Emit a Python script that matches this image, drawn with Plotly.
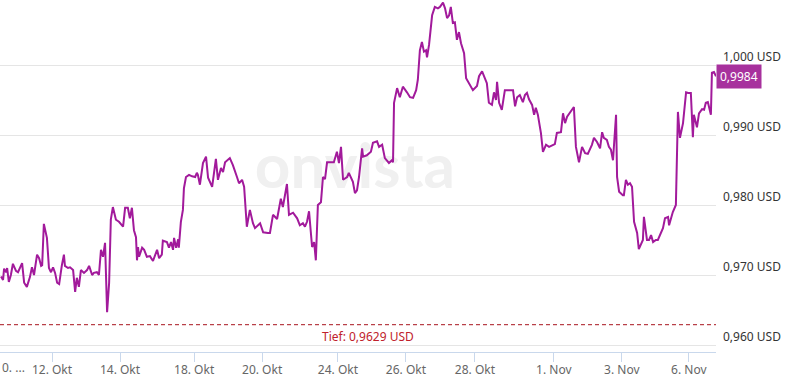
import plotly.graph_objects as go

# time in trading days from the left edge of the window, price in USD
t = [0.03,0.09,0.12,0.18,0.21,0.26,0.32,0.38,0.47,0.53,0.65,0.71,0.79,0.88,0.94,1.00,1.09,1.15,1.21,1.24,
     1.29,1.38,1.44,1.50,1.56,1.62,1.68,1.74,1.82,1.88,1.91,2.00,2.06,2.15,2.21,2.26,2.32,2.38,2.47,2.56,
     2.62,2.71,2.76,2.85,2.91,2.97,3.03,3.09,3.15,3.21,3.26,3.32,3.41,3.50,3.62,3.68,3.76,3.82,3.88,3.94,
     4.00,4.03,4.06,4.09,4.18,4.24,4.32,4.41,4.50,4.56,4.62,4.68,4.76,4.79,4.91,4.97,5.03,5.09,5.12,5.18,
     5.24,5.26,5.32,5.38,5.41,5.47,5.56,5.65,5.74,5.79,5.82,5.88,5.97,6.06,6.12,6.24,6.35,6.41,6.50,6.56,
     6.62,6.76,6.85,6.97,7.03,7.12,7.18,7.26,7.35,7.44,7.50,7.65,7.74,7.88,7.94,8.03,8.15,8.26,8.32,8.44,
     8.50,8.62,8.74,8.82,8.91,8.97,9.03,9.09,9.18,9.24,9.29,9.35,9.44,9.50,9.56,9.62,9.71,9.82,9.91,9.97,
     10.03,10.09,10.21,10.26,10.38,10.44,10.50,10.56,10.65,10.68,10.79,10.91,10.97,11.09,11.15,11.24,11.32,11.38,11.44,11.53,
     11.56,11.59,11.68,11.76,11.85,11.97,12.06,12.15,12.24,12.29,12.35,12.41,12.47,12.53,12.56,12.62,12.71,12.79,12.88,12.94,
     13.03,13.09,13.15,13.21,13.26,13.32,13.38,13.44,13.50,13.56,13.62,13.65,13.71,13.82,13.91,14.03,14.09,14.18,14.26,14.32,
     14.38,14.47,14.53,14.59,14.62,14.68,14.76,14.85,14.94,15.09,15.15,15.21,15.29,15.38,15.44,15.50,15.56,15.65,15.71,15.76,
     15.82,15.91,15.97,16.06,16.15,16.32,16.38,16.50,16.56,16.62,16.68,16.76,16.88,16.94,17.03,17.12,17.21,17.29,17.41,17.47,
     17.56,17.65,17.71,17.76,17.85,17.91,17.97,18.03,18.06,18.12,18.15,18.21,18.32,18.35,18.41,18.47,18.53,18.59,18.65,18.74,
     18.79,18.85,18.91,18.94,19.03,19.09,19.15,19.21,19.29,19.35,19.44,19.50,19.56,19.65,19.68,19.74,19.79,19.88,19.91,19.94,
     20.00,20.09,20.18,20.24,20.32,20.38,20.41,20.50,20.56,20.65,20.71,20.76,20.82,20.91,20.94,21.00,21.06]

price = [0.9698,0.9693,0.9709,0.9704,0.9710,0.9690,0.9700,0.9716,0.9706,0.9704,0.9717,0.9689,0.9683,0.9697,0.9711,0.9700,0.9729,0.9724,0.9713,0.9714,
         0.9773,0.9753,0.9710,0.9704,0.9711,0.9703,0.9689,0.9687,0.9714,0.9729,0.9713,0.9710,0.9711,0.9707,0.9676,0.9696,0.9683,0.9707,0.9703,0.9707,
         0.9713,0.9700,0.9703,0.9704,0.9700,0.9736,0.9726,0.9746,0.9647,0.9689,0.9779,0.9797,0.9779,0.9776,0.9769,0.9796,0.9796,0.9781,0.9796,0.9764,
         0.9754,0.9721,0.9740,0.9726,0.9739,0.9736,0.9726,0.9727,0.9720,0.9729,0.9736,0.9724,0.9729,0.9749,0.9747,0.9739,0.9747,0.9736,0.9753,0.9739,
         0.9751,0.9739,0.9776,0.9793,0.9824,0.9840,0.9843,0.9841,0.9840,0.9846,0.9843,0.9829,0.9860,0.9869,0.9839,0.9826,0.9866,0.9836,0.9853,0.9847,
         0.9861,0.9867,0.9857,0.9840,0.9831,0.9836,0.9826,0.9769,0.9793,0.9774,0.9767,0.9774,0.9761,0.9760,0.9760,0.9786,0.9780,0.9809,0.9797,0.9830,
         0.9786,0.9789,0.9781,0.9771,0.9774,0.9769,0.9776,0.9791,0.9740,0.9747,0.9721,0.9800,0.9804,0.9840,0.9837,0.9861,0.9861,0.9861,0.9876,0.9860,
         0.9883,0.9836,0.9840,0.9846,0.9833,0.9817,0.9821,0.9840,0.9881,0.9869,0.9871,0.9876,0.9889,0.9891,0.9883,0.9886,0.9867,0.9864,0.9860,0.9864,
         0.9861,0.9946,0.9967,0.9954,0.9969,0.9961,0.9954,0.9953,0.9964,0.9979,1.0021,1.0033,1.0019,1.0021,1.0011,1.0029,1.0071,1.0083,1.0081,1.0083,
         1.0089,1.0081,1.0067,1.0071,1.0083,1.0060,1.0061,1.0036,1.0047,1.0031,1.0021,1.0017,0.9981,0.9971,0.9964,0.9970,0.9984,0.9991,0.9981,0.9974,
         0.9946,0.9943,0.9961,0.9950,0.9976,0.9946,0.9936,0.9964,0.9964,0.9964,0.9941,0.9954,0.9957,0.9947,0.9957,0.9960,0.9951,0.9943,0.9929,0.9939,
         0.9929,0.9903,0.9876,0.9886,0.9883,0.9887,0.9903,0.9904,0.9931,0.9917,0.9926,0.9931,0.9940,0.9883,0.9861,0.9883,0.9874,0.9873,0.9886,0.9896,
         0.9890,0.9881,0.9904,0.9896,0.9893,0.9883,0.9879,0.9864,0.9886,0.9929,0.9840,0.9819,0.9814,0.9814,0.9836,0.9829,0.9831,0.9826,0.9776,0.9760,
         0.9737,0.9743,0.9750,0.9783,0.9750,0.9750,0.9757,0.9747,0.9750,0.9750,0.9761,0.9767,0.9781,0.9783,0.9771,0.9783,0.9790,0.9800,0.9864,0.9933,
         0.9896,0.9917,0.9961,0.9960,0.9960,0.9897,0.9929,0.9911,0.9931,0.9937,0.9936,0.9946,0.9947,0.9929,0.9989,0.9990,0.9984]

x_tick_pos = [1.53, 3.53, 5.71, 7.71, 9.94, 11.94, 13.97, 16.29, 18.29, 20.26]
x_tick_labels = ["12. Okt", "14. Okt", "18. Okt", "20. Okt", "24. Okt", "26. Okt", "28. Okt", "1. Nov", "3. Nov", "6. Nov"]
y_tick_vals = [0.96, 0.97, 0.98, 0.99, 1.00]
y_tick_labels = ["0,960 USD", "0,970 USD", "0,980 USD", "0,990 USD", "1,000 USD"]
low_value = 0.9629
low_label = "Tief: 0,9629 USD"
last_label = "0,9984"
watermark = "onvista"

LINE = "#a21a9b"
FONT = "Noto Sans"

fig = go.Figure()
# watermark behind the line
fig.add_trace(go.Scatter(x=[10.44], y=[0.9847], mode="text", text=[watermark],
                         textfont=dict(family="Lato", size=62, color="#f0f0f0", weight="bold"),
                         hoverinfo="skip", showlegend=False))
fig.add_trace(go.Scatter(x=t, y=price, mode="lines", line=dict(color=LINE, width=2),
                         showlegend=False))

fig.add_shape(type="line", xref="paper", x0=0, x1=1, yref="y", y0=low_value, y1=low_value,
              line=dict(color="#a8141e", width=1, dash="4px,3px"))
fig.add_annotation(x=10.82, y=low_value, xref="x", yref="y", text=low_label, showarrow=False,
                   yanchor="top", yshift=-1, font=dict(family=FONT, size=12, color="#c0212b"))
fig.add_annotation(x=1, xref="paper", y=price[-1], yref="y", text=last_label, showarrow=False,
                   xanchor="left", yanchor="middle", bgcolor="#a7319d", borderpad=3,
                   font=dict(family=FONT, size=12, color="white"))
fig.add_annotation(x=0, xref="paper", y=-0.043, yref="paper", text="0. ...", showarrow=False,
                   xanchor="left", yanchor="middle", font=dict(family=FONT, size=12, color="#666666"))

fig.update_layout(
    width=791, height=379, margin=dict(l=0, r=75, t=0, b=27, autoexpand=False),
    paper_bgcolor="white", plot_bgcolor="white",
    font=dict(family=FONT, size=12, color="#333333"),
    xaxis=dict(range=[0, 21.06], tickvals=x_tick_pos, ticktext=x_tick_labels,
               showgrid=False, zeroline=False, showline=True, linecolor="#c9d8ec", linewidth=1,
               ticks="outside", ticklen=9, tickcolor="#c9d8ec", ticklabelstandoff=-2,
               tickfont=dict(family=FONT, size=12, color="#666666"), fixedrange=True),
    yaxis=dict(range=[0.959, 1.009286], side="right", tickvals=y_tick_vals, ticktext=y_tick_labels,
               showgrid=True, gridcolor="#e5e5e5", gridwidth=1, zeroline=False, showline=False,
               ticks="", ticklabelposition="outside top", ticklabelstandoff=6,
               tickfont=dict(family=FONT, size=12, color="#333333")),
)

fig.write_html("out.html", config={"displayModeBar": False},
               post_script="document.body.style.margin='0';document.body.style.overflow='hidden';")
